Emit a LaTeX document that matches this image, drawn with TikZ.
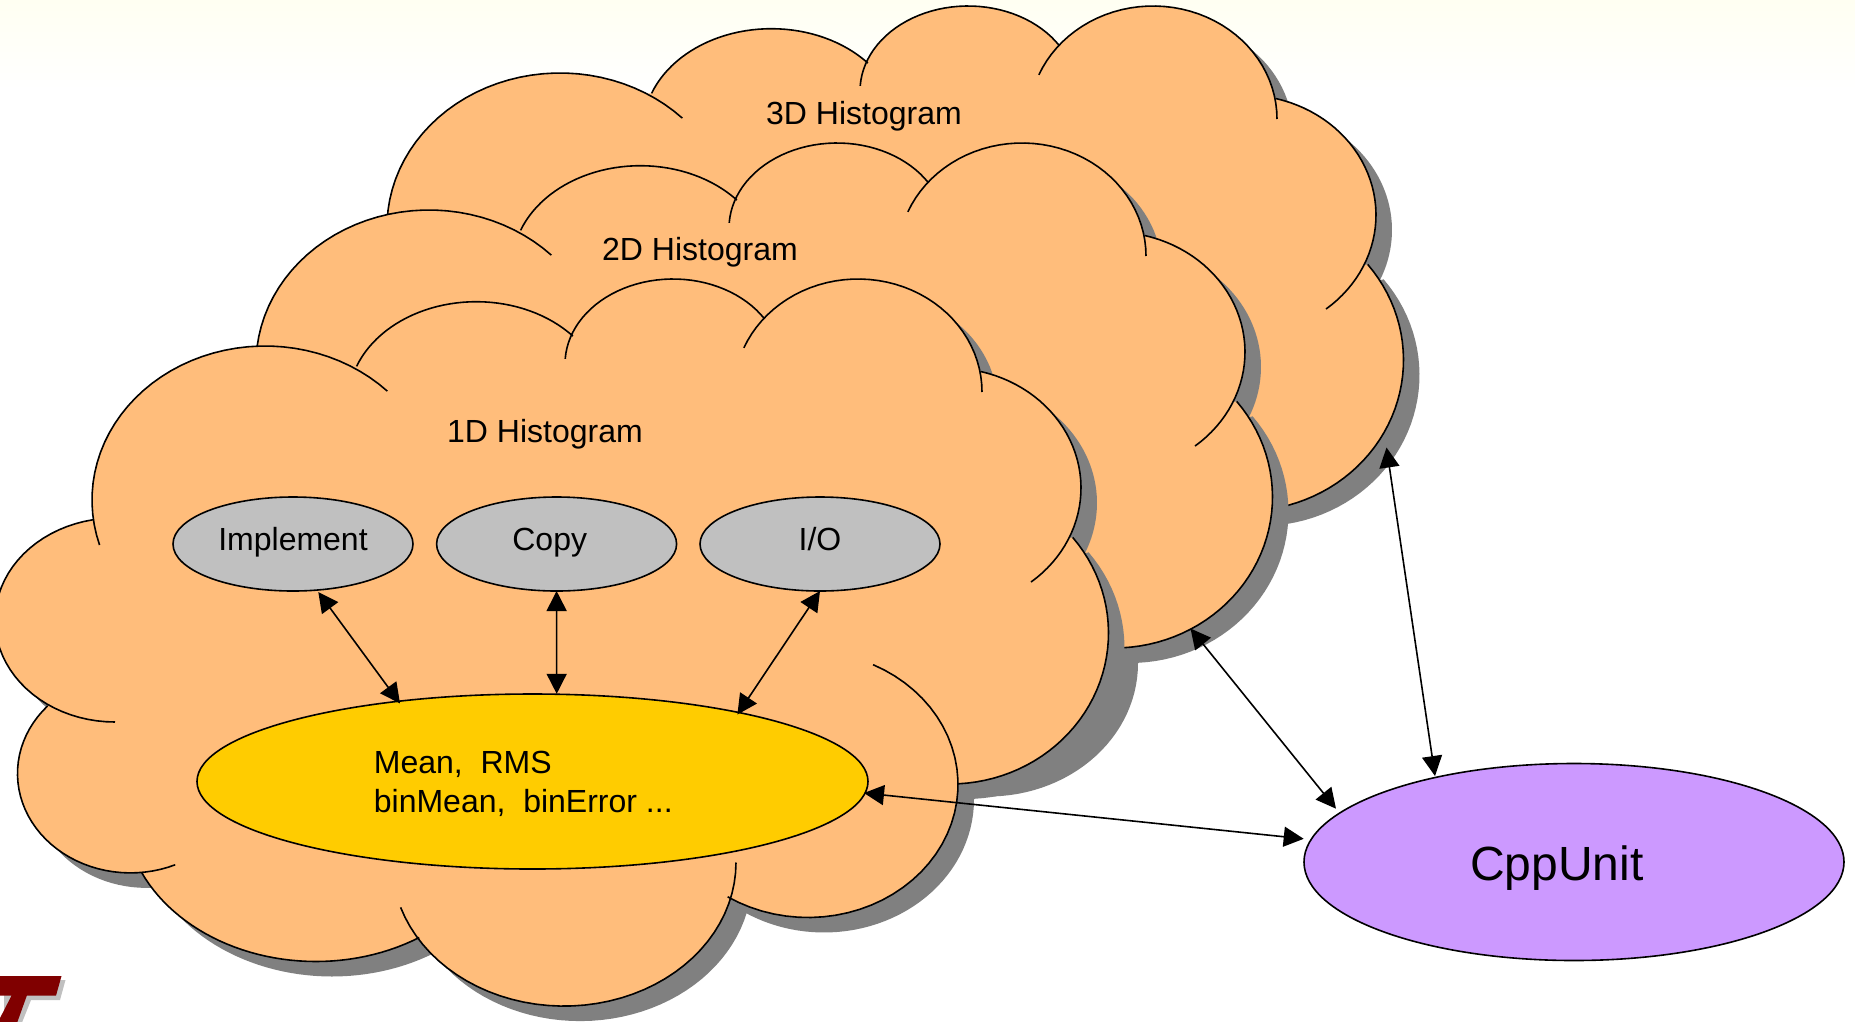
\documentclass[tikz,border=0pt]{standalone}
\usepackage{fontspec}
\setmainfont{Liberation Sans}
\usetikzlibrary{shapes.geometric,arrows.meta}
\definecolor{cloudc}{HTML}{FFBD7B}
\definecolor{shadowc}{HTML}{808080}
\definecolor{grayc}{HTML}{C0C0C0}
\definecolor{yellowc}{HTML}{FFCC00}
\definecolor{purplec}{HTML}{CC99FF}
\definecolor{logoc}{HTML}{800000}
\definecolor{paper}{HTML}{FFFFF2}
\newcommand\lobe[6]{plot[domain=#5:#6,samples=40,variable=\noexpand\lobv]({#1+#3*cos(\noexpand\lobv)},{#2+#4*sin(\noexpand\lobv)})}
\edef\cloudfillpath{%
\lobe{265}{500}{173}{154}{172}{300} --
\lobe{476.3}{401.7}{128}{100}{200.7}{319} --
\lobe{673}{364}{108}{85}{200}{328} --
\lobe{858}{392}{124}{113}{219.6}{349} --
\lobe{949}{488}{132}{120}{284}{384.7} --
\lobe{950}{633}{158.5}{151}{-39.3}{87} --
\lobe{808}{784.5}{150}{133}{0}{122.4} --
\lobe{564}{862.5}{172}{143.6}{14}{148} --
\lobe{316}{808.5}{192}{153}{57.5}{155.2} --
\lobe{130.5}{773.5}{113}{99.4}{83}{222.8} --
\lobe{115}{620}{120}{102}{124}{259.3} -- cycle}
\edef\cloudlinepath{%
\lobe{265}{500}{173}{154}{163}{315}
\lobe{476.3}{401.7}{128}{100}{200.7}{319}
\lobe{673}{364}{108}{85}{183.5}{328}
\lobe{858}{392}{124}{113}{203}{360}
\lobe{949}{488}{132}{120}{284}{411.6}
\lobe{950}{633}{158.5}{151}{-39.3}{87}
\lobe{808}{784.5}{150}{133}{-64.3}{122.4}
\lobe{564}{862.5}{172}{143.6}{0}{161.8}
\lobe{316}{808.5}{192}{153}{57.5}{155.2}
\lobe{130.5}{773.5}{113}{99.4}{66.7}{222.8}
\lobe{115}{620}{120}{102}{90}{259.3}}
\newcommand\cloudat[2]{%
\begin{scope}[shift={(#1+16,#2+15)}]\fill[shadowc] \cloudfillpath;\end{scope}
\begin{scope}[shift={(#1,#2)}]\fill[cloudc] \cloudfillpath;\draw[outl] \cloudlinepath;\end{scope}}
\tikzset{
  outl/.style={line width=1.6pt,black,line join=round},
  txt/.style={font=\fontsize{32}{39}\selectfont,inner sep=0pt,text=black},
  oval/.style={ellipse,draw=black,line width=1.6pt,inner sep=0pt,outer sep=0pt,font=\fontsize{32}{39}\selectfont},
  smalloval/.style={oval,fill=grayc,minimum width=240pt,minimum height=94pt,text height=13.4pt,text depth=0pt},
  link/.style={line width=1.6pt,black,{Triangle[length=20pt,width=20pt]}-{Triangle[length=20pt,width=20pt]},shorten >=0pt,shorten <=0pt}
}
\begin{document}
\begin{tikzpicture}[x=1pt,y=-1pt]
\useasboundingbox (0,0) rectangle (1855,1021);
\clip (0,0) rectangle (1855,1021);
\fill[white] (0,0) rectangle (1855,1021);
\shade[top color=paper,bottom color=white] (0,0) rectangle (1855,90);
% clouds, back to front
\cloudat{295}{-273}
\cloudat{164}{-136}
\cloudat{0}{0}
% logo
\fill[grayc] (4,980) -- (65.5,980) -- (60,1000) -- (31,1000) -- (21,1025) -- (4,1025) -- cycle;
\fill[logoc] (-2,976) -- (61.5,976) -- (56,995.7) -- (26.8,995.7) -- (17.4,1022) -- (-2,1022) -- (11.5,995.7) -- (-2,995.7) -- cycle;
% labels
\node[txt,anchor=base] (h3) at (864,124) {3D Histogram};
\node[txt,anchor=base] (h2) at (700,260) {2D Histogram};
\node[txt,anchor=base] (h1) at (545,442.7) {1D Histogram};
% ellipses
\node[smalloval] (impl) at (293,544) {Implement};
\node[smalloval] (copy) at (556.6,544) {Copy\kern13.8pt};
\node[smalloval] (io) at (820,544) {I/O};
\node[oval,fill=yellowc,minimum width=671pt,minimum height=175pt] (mean) at (532.5,781.5) {};
\node[txt,align=left,anchor=north west] (meantxt) at (373.7,751.4) {Mean,\ \ RMS\\binMean,\ \ binError ...};
\node[oval,fill=purplec,minimum width=540pt,minimum height=197pt,font=\fontsize{48}{56}\selectfont,text height=36pt,text depth=0pt] (cpp) at (1574,862) {CppUnit\kern34pt};
% free ends on the clouds
\coordinate (c2) at (1190.5,628.5);
\coordinate (c3) at (1386.5,447.5);
% connectors
\draw[link] ([shift={(25.3,48)}]impl.center) -- ([shift={(-132.5,-78.1)}]mean.center);
\draw[link] (copy.south) -- ([shift={(24.2,-87.7)}]mean.center);
\draw[link] (io.south) -- ([shift={(204.9,-67)}]mean.center);
\draw[link] ([shift={(331.5,11.5)}]mean.center) -- ([shift={(-270.3,-23.2)}]cpp.center);
\draw[link] (c2) -- ([shift={(-238,-53.3)}]cpp.center);
\draw[link] (c3) -- ([shift={(-139,-86)}]cpp.center);
\end{tikzpicture}
\end{document}
